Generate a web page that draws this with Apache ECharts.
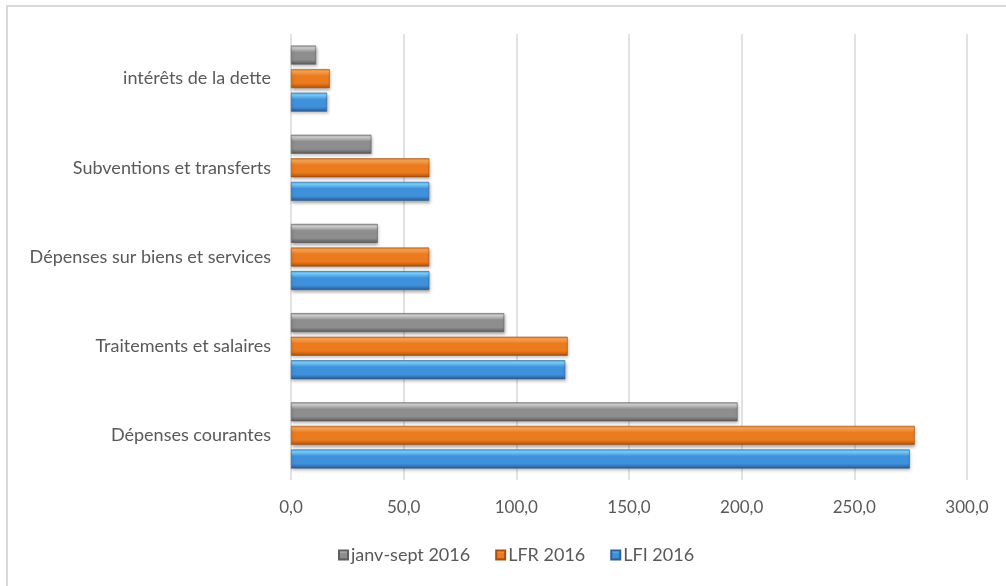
<!DOCTYPE html>
<html>
<head>
<meta charset="utf-8">
<script src="https://cdn.jsdelivr.net/npm/echarts@6/dist/echarts.min.js"></script>
<style>
  html, body { margin: 0; padding: 0; background: #fff; }
  #chart { width: 1006px; height: 586px; }
</style>
</head>
<body>
<div id="chart"></div>
<script>
// Categories, bottom to top
const categories = [
  'Dépenses courantes',
  'Traitements et salaires',
  'Dépenses sur biens et services',
  'Subventions et transferts',
  'intérêts de la dette'
];
// Values (milliards)
const lfi2016 = [274.6, 121.7, 61.4, 61.3, 16.0];
const lfr2016 = [276.8, 122.8, 61.3, 61.4, 17.2];
const janvSept2016 = [198.2, 94.6, 38.5, 35.7, 11.1];
const seriesNames = ['janv-sept 2016', 'LFR 2016', 'LFI 2016'];
const xTicks = { min: 0, max: 300, interval: 50 };

const FONT = 'Lato, "Open Sans", "Liberation Sans", sans-serif';

// bevel-like vertical gradient for each bar
function bevel(top, hi, body, low, bottom) {
  return new echarts.graphic.LinearGradient(0, 0, 0, 1, [
    { offset: 0, color: top },
    { offset: 0.12, color: hi },
    { offset: 0.35, color: body },
    { offset: 0.75, color: body },
    { offset: 0.9, color: low },
    { offset: 1, color: bottom }
  ]);
}
const grayFill = bevel('#9a9a9a', '#d6d6d6', '#8e8e8e', '#6e6e6e', '#555555');
const orangeFill = bevel('#e07a26', '#fbab5a', '#ec7a1e', '#c9620f', '#9c4a0c');
const blueFill = bevel('#4aa3e6', '#7fd6ff', '#3f91dc', '#336fb0', '#25568c');

function barSeries(name, data, fill, edge) {
  return {
    name: name,
    type: 'bar',
    data: data,
    barWidth: 19,
    barGap: '24%',
    itemStyle: {
      color: fill,
      borderColor: edge,
      borderWidth: 0.6,
      shadowColor: 'rgba(0,0,0,0.3)',
      shadowBlur: 3,
      shadowOffsetX: 1,
      shadowOffsetY: 2
    }
  };
}

const chart = echarts.init(document.getElementById('chart'), null, { renderer: 'canvas' });
chart.setOption({
  animation: false,
  backgroundColor: '#ffffff',
  textStyle: { fontFamily: FONT },
  graphic: [
    { type: 'line', shape: { x1: 6, y1: 6, x2: 1006, y2: 6 }, style: { stroke: '#d9d9d9', lineWidth: 2 } },
    { type: 'line', shape: { x1: 7, y1: 5, x2: 7, y2: 586 }, style: { stroke: '#d9d9d9', lineWidth: 2 } }
  ],
  grid: { left: 291, right: 39, top: 34, bottom: 106 },
  legend: {
    data: seriesNames,
    top: 541,
    left: 333,
    itemWidth: 9,
    itemHeight: 9,
    itemGap: 25,
    icon: 'rect',
    textStyle: { color: '#595959', fontSize: 18, fontFamily: FONT, padding: [0, 0, 0, -2] }
  },
  xAxis: {
    type: 'value',
    min: xTicks.min,
    max: xTicks.max,
    interval: xTicks.interval,
    axisLine: { show: false },
    axisTick: { show: false },
    axisLabel: {
      color: '#595959',
      fontSize: 17,
      margin: 19,
      formatter: v => v.toFixed(1).replace('.', ',')
    },
    splitLine: { lineStyle: { color: '#d9d9d9', width: 1.5 } }
  },
  yAxis: {
    type: 'category',
    data: categories,
    axisLine: { show: false },
    axisTick: { show: false },
    axisLabel: { color: '#595959', fontSize: 18, margin: 20 },
    splitLine: { show: false }
  },
  series: [
    barSeries('janv-sept 2016', janvSept2016, grayFill, '#5f5f5f'),
    barSeries('LFR 2016', lfr2016, orangeFill, '#a84f10'),
    barSeries('LFI 2016', lfi2016, blueFill, '#2e5f95')
  ]
});
</script>
</body>
</html>
